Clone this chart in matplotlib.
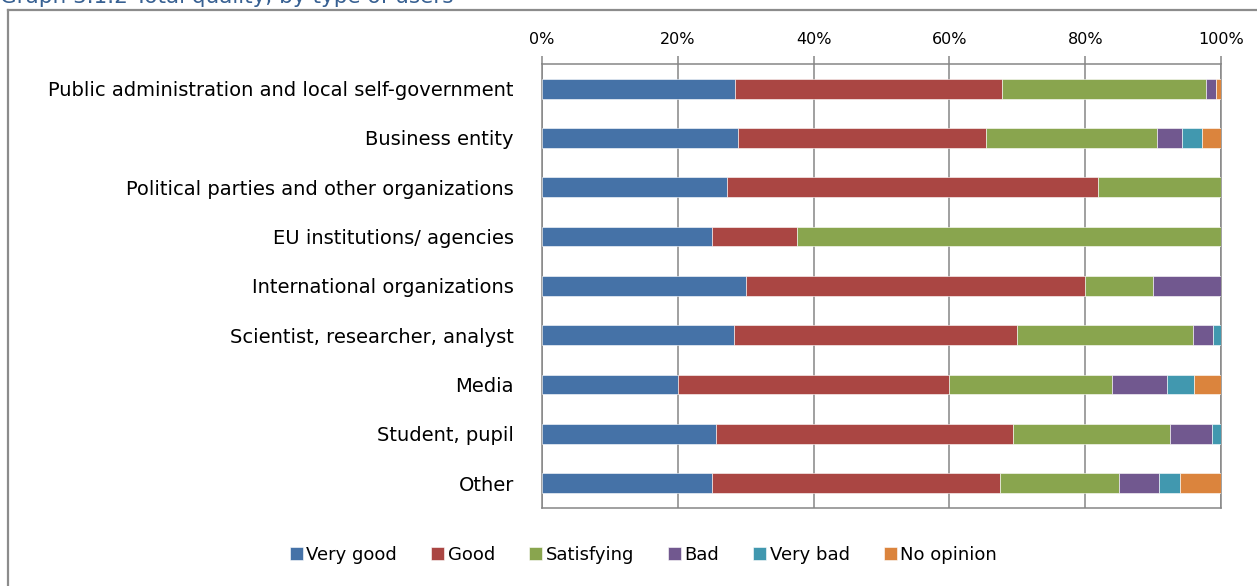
import numpy as np
import matplotlib.pyplot as plt
from matplotlib.lines import Line2D

plt.rcParams['font.family'] = ['DejaVu Sans']

categories = ["Public administration and local self-government",
              "Business entity",
              "Political parties and other organizations",
              "EU institutions/ agencies",
              "International organizations",
              "Scientist, researcher, analyst",
              "Media",
              "Student, pupil",
              "Other"]

series_names = ["Very good", "Good", "Satisfying", "Bad", "Very bad", "No opinion"]

very_good  = [28.5, 28.9, 27.3, 25.0, 30.0, 28.3, 20.0, 25.7, 25.0]
good       = [39.3, 36.5, 54.6, 12.5, 50.0, 41.7, 40.0, 43.6, 42.5]
satisfying = [30.0, 25.1, 18.1, 62.5, 10.0, 25.8, 24.0, 23.1, 17.4]
bad        = [1.5, 3.8, 0.0, 0.0, 10.0, 3.0, 8.0, 6.3, 6.0]
very_bad   = [0.0, 2.9, 0.0, 0.0, 0.0, 1.2, 4.0, 1.3, 3.1]
no_opinion = [0.7, 2.8, 0.0, 0.0, 0.0, 0.0, 4.0, 0.0, 6.0]

colors = ["#4572A7", "#AA4643", "#89A54E", "#71588F", "#4198AF", "#DB843D"]
grid_grey = "#868686"

fig = plt.figure(figsize=(12.57, 5.86), dpi=100)
ax = fig.add_axes([0.431, 0.1336, 0.5405, 0.7572])

y = np.arange(len(categories))
left = np.zeros(len(categories))
for name, vals, c in zip(series_names,
                         [very_good, good, satisfying, bad, very_bad, no_opinion],
                         colors):
    vals = np.array(vals)
    ax.barh(y, vals, left=left, height=0.4, color=c, label=name,
            edgecolor="white", linewidth=0.4, zorder=3)
    left += vals

ax.set_xlim(0, 100)
ax.set_ylim(len(categories) - 0.5, -0.5)
ax.set_yticks(y)
ax.set_yticklabels(categories, fontsize=14, color="black")
ax.tick_params(axis="y", length=0, pad=20)

ax.set_xticks(np.arange(0, 101, 20))
ax.set_xticklabels([f"{v}%" for v in range(0, 101, 20)], fontsize=11.5)
ax.xaxis.tick_top()
ax.tick_params(axis="x", direction="out", length=6, width=1.1, color=grid_grey, pad=6)
ax.grid(axis="x", color=grid_grey, linewidth=1.1, zorder=0)

for sp in ax.spines.values():
    sp.set_color(grid_grey)
    sp.set_linewidth(1.1)

ax.legend(loc="center", bbox_to_anchor=(0.512, 0.053), bbox_transform=fig.transFigure,
          ncol=6, frameon=False, fontsize=13, handlelength=0.7, handleheight=0.7,
          handletextpad=0.2, columnspacing=1.9)

# outer chart border, only the top-left corner falls inside the image
fig.add_artist(Line2D([8 / 1257, 8 / 1257], [0, 1 - 10 / 586], transform=fig.transFigure,
                      color="#8c8c8c", linewidth=1.6))
fig.add_artist(Line2D([8 / 1257, 1], [1 - 10 / 586, 1 - 10 / 586], transform=fig.transFigure,
                      color="#8c8c8c", linewidth=1.6))

fig.text(0.0, 1 - 3 / 586, "Graph 3.1.2 Total quality, by type of users",
         fontsize=15.5, color="#376092", ha="left", va="baseline")

fig.savefig("out.png", dpi=100)
